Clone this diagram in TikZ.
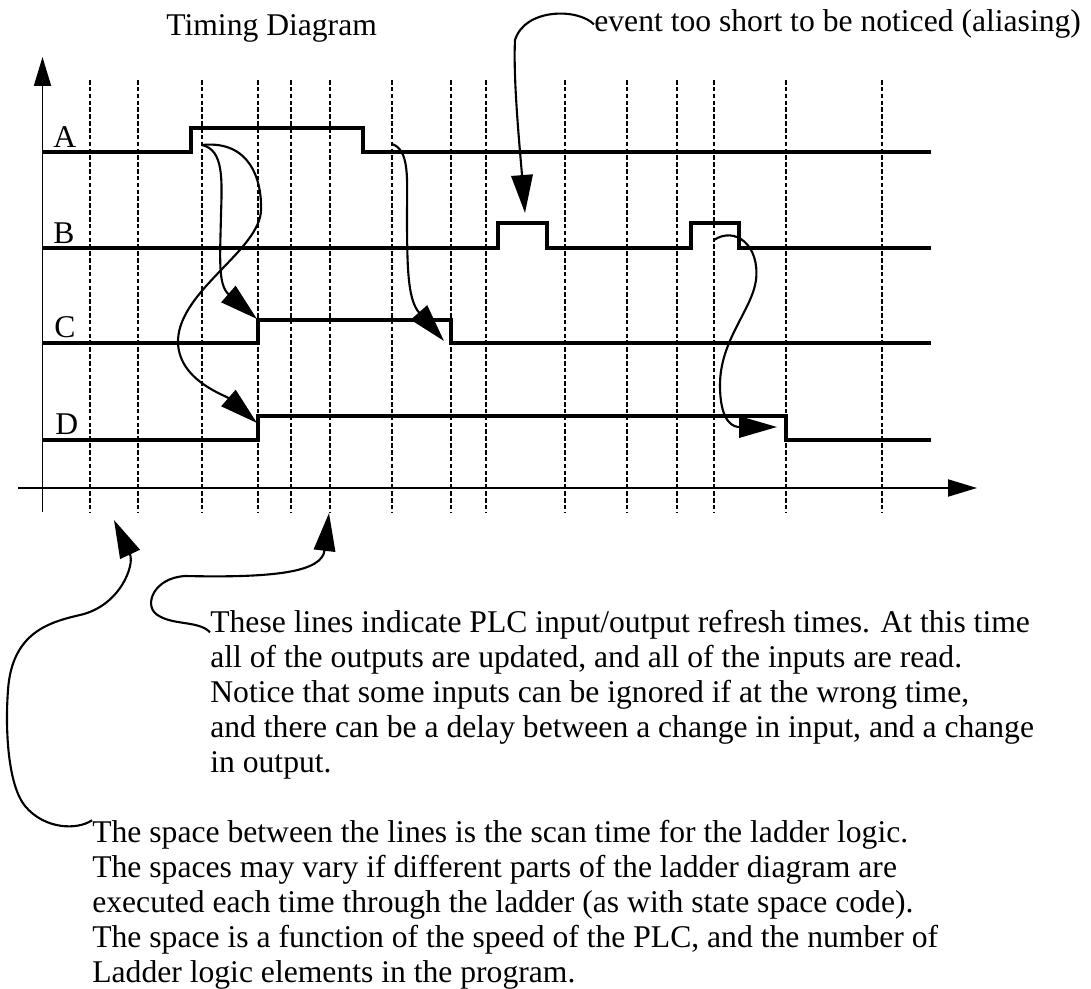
\documentclass[tikz,border=0pt]{standalone}
\usepackage{fontspec}
\setmainfont{Liberation Serif}
\usetikzlibrary{arrows.meta, calc}

\begin{document}
\begin{tikzpicture}[
    x=0.02cm, y=-0.02cm,
    font=\fontsize{18}{19.8}\selectfont,
    sig/.style={line width=1.9pt, line join=miter},
    axis/.style={line width=1.1pt, -{Triangle[length=0.58cm, width=0.34cm]}},
    scanline/.style={line width=0.8pt, dash pattern=on 2.6pt off 1.3pt},
    callout/.style={line width=1.2pt, -{Triangle[length=0.76cm, width=0.43cm]}},
    lbl/.style={anchor=base west, inner sep=0pt},
    note/.style={anchor=base west, inner sep=0pt, align=left},
]
\useasboundingbox (0,0) rectangle (1091,989);

% ── Titles ───────────────────────────────────────────────────────────
\node[lbl] (title)  at (166,36) {Timing Diagram};
\node[lbl] (evnote) at (594,32) {event too short to be noticed (aliasing)};

% ── Refresh lines (one per PLC scan) ─────────────────────────────────
\foreach \x in {90,138,202,258,291,330,392,451,486,565,627,677,714,786,882}
    \draw[scanline] (\x,80) -- (\x,512);

% ── Axes ─────────────────────────────────────────────────────────────
\draw[axis] (42.5,512) -- (42.5,57);
\draw[axis] (18,488) -- (977,488);

% ── Signals A..D ─────────────────────────────────────────────────────
\node[lbl] (labA) at (53,148) {A};
\node[lbl] (labB) at (53,244) {B};
\node[lbl] (labC) at (54,338) {C};
\node[lbl] (labD) at (55,435) {D};

\draw[sig] (42,152) -- (191,152) -- (191,128) -- (363,128) -- (363,152) -- (931,152);
\draw[sig] (42,248) -- (498,248) -- (498,223) -- (547,223) -- (547,248)
           -- (691,248) -- (691,223) -- (739,223) -- (739,248) -- (931,248);
\draw[sig] (42,343) -- (258,343) -- (258,320) -- (451,320) -- (451,343) -- (931,343);
\draw[sig] (42,440) -- (258,440) -- (258,416) -- (786,416) -- (786,440) -- (931,440);

% ── Notes below the chart (placed on their last baseline) ────────────
\node[note] (ionote) at (210,772) {These lines indicate PLC input/output refresh times. At this time\\
all of the outputs are updated, and all of the inputs are read.\\
Notice that some inputs can be ignored if at the wrong time,\\
and there can be a delay between a change in input, and a change\\
in output.};
\node[note] (scannote) at (92,982) {The space between the lines is the scan time for the ladder logic.\\
The spaces may vary if different parts of the ladder diagram are\\
executed each time through the ladder (as with state space code).\\
The space is a function of the speed of the PLC, and the number of\\
Ladder logic elements in the program.};

% ── Cause/effect ends ────────────────────────────────────────────────
\coordinate (arise) at (202,145);
\coordinate (afall) at (392,144);
\coordinate (bpulse) at (714,240);
\coordinate (crise) at (257,319);
\coordinate (drise) at (257,423);
\coordinate (cfall) at (444,341);
\coordinate (dfall) at (777,427);
\coordinate (evtip) at (525,213);
\coordinate (iotip) at (329,513);
\coordinate (scantip) at (114,520);

% ── Callout arrows ───────────────────────────────────────────────────
\draw[callout] (arise) .. controls (224,150) and (222,180) .. (221,215)
                       .. controls (220,260) and (218,285) .. (crise);
\draw[callout] (arise) .. controls (250,140) and (262,180) .. (261,210)
                       .. controls (260,250) and (180,290) .. (178,340)
                       .. controls (177,380) and (225,395) .. (drise);
\draw[callout] (afall) .. controls (410,150) and (407,180) .. (407,215)
                       .. controls (407,270) and (408,300) .. (cfall);
\draw[callout] (bpulse) .. controls (735,226) and (760,245) .. (756,280)
                        .. controls (752,310) and (720,340) .. (720,385)
                        .. controls (720,425) and (735,427) .. (dfall);
\draw[callout] (evnote.west) .. controls (578,8) and (525,8) .. (515,40)
                             .. controls (513,80) and (520,150) .. (evtip);
\draw[callout] ($(ionote.north west)+(0,22)$)
                   .. controls (198,620) and (172,626) .. (156,614)
                   .. controls (144,604) and (154,578) .. (185,576)
                   .. controls (275,578) and (322,572) .. (iotip);
\draw[callout] (scannote.north west) .. controls (78,830) and (45,830) .. (25,806)
                                     .. controls (8,785) and (5,730) .. (8,690)
                                     .. controls (12,632) and (50,622) .. (80,615)
                                     .. controls (120,606) and (135,565) .. (scantip);

\end{tikzpicture}
\end{document}
